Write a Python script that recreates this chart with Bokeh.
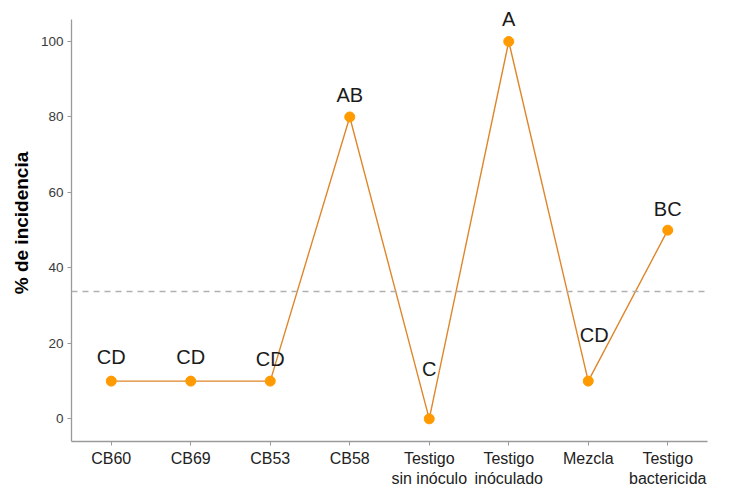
from bokeh.plotting import figure
from bokeh.models import ColumnDataSource, Span, Range1d, FixedTicker, Label
from bokeh.embed import file_html
from bokeh.resources import INLINE

# Treatments and incidence values
tratamientos = ["CB60", "CB69", "CB53", "CB58", "Testigo sin inóculo",
                "Testigo inóculado", "Mezcla", "Testigo bactericida"]
tick_labels = ["CB60", "CB69", "CB53", "CB58", "Testigo\nsin inóculo",
               "Testigo\ninóculado", "Mezcla", "Testigo\nbactericida"]
incidencia = [10, 10, 10, 80, 0, 100, 10, 50]
letras = ["CD", "CD", "CD", "AB", "C", "A", "CD", "BC"]

# label nudges (pixels) so letters clear the line
label_dx = [0, 0, 0, 0, 0, 0, 6, 0]
label_dy = [13, 13, 11, 11, 39, 11, 35, 10]

posiciones = list(range(1, len(tratamientos) + 1))
media = sum(incidencia) / len(incidencia)

src = ColumnDataSource(dict(x=posiciones, y=incidencia, trat=tratamientos))

# the frame reaches a little above the y axis so the top letter is not clipped
y_lo, y_axis_top, y_hi = -6, 105.8, 109.8

p = figure(width=729, height=491, output_backend="svg", toolbar_location=None,
           x_range=Range1d(0.5, len(tratamientos) + 0.5),
           y_range=Range1d(y_lo, y_hi),
           min_border_left=71, min_border_right=22, min_border_top=4,
           min_border_bottom=50)

p.outline_line_color = None
p.grid.visible = False
p.background_fill_color = "white"

p.add_layout(Span(location=media, dimension="width", line_color="#b0b0b0",
                  line_dash="6 5", line_width=1.4))

p.line("x", "y", source=src, line_color="#E0862A", line_width=1.4)
p.scatter("x", "y", source=src, size=10, fill_color="#FF9A00", line_color="#FF9A00")

for xi, yi, txt, dx, dy in zip(posiciones, incidencia, letras, label_dx, label_dy):
    p.add_layout(Label(x=xi, y=yi, text=txt, x_offset=dx, y_offset=dy,
                       text_align="center", text_baseline="bottom",
                       text_font="Liberation Sans", text_font_size="20px",
                       text_color="#1a1a1a"))

# y axis
p.yaxis.ticker = FixedTicker(ticks=[0, 20, 40, 60, 80, 100])
p.yaxis.bounds = (y_lo, y_axis_top)
p.yaxis.axis_label = "% de incidencia"
p.yaxis.axis_label_text_font = "Liberation Sans"
p.yaxis.axis_label_text_font_style = "bold"
p.yaxis.axis_label_text_font_size = "19px"
p.yaxis.axis_label_text_color = "black"
p.yaxis.axis_label_standoff = 6
p.yaxis.major_label_text_font = "Liberation Sans"
p.yaxis.major_label_text_font_size = "13.5px"
p.yaxis.major_label_text_color = "#3a3a3a"
p.yaxis.major_label_standoff = 4

# x axis: one tick per treatment
p.xaxis.ticker = FixedTicker(ticks=posiciones)
p.xaxis.major_label_overrides = dict(zip(posiciones, tick_labels))
p.xaxis.major_label_text_font = "Liberation Sans"
p.xaxis.major_label_text_font_size = "16px"
p.xaxis.major_label_text_color = "#222222"
p.xaxis.major_label_standoff = 4

for ax in (p.xaxis, p.yaxis):
    ax.axis_line_color = "#9a9a9a"
    ax.axis_line_width = 1.3
    ax.major_tick_line_color = "#9a9a9a"
    ax.major_tick_out = 4
    ax.major_tick_in = 0
    ax.minor_tick_line_color = None

open("out.html", "w").write(file_html(p, INLINE))
